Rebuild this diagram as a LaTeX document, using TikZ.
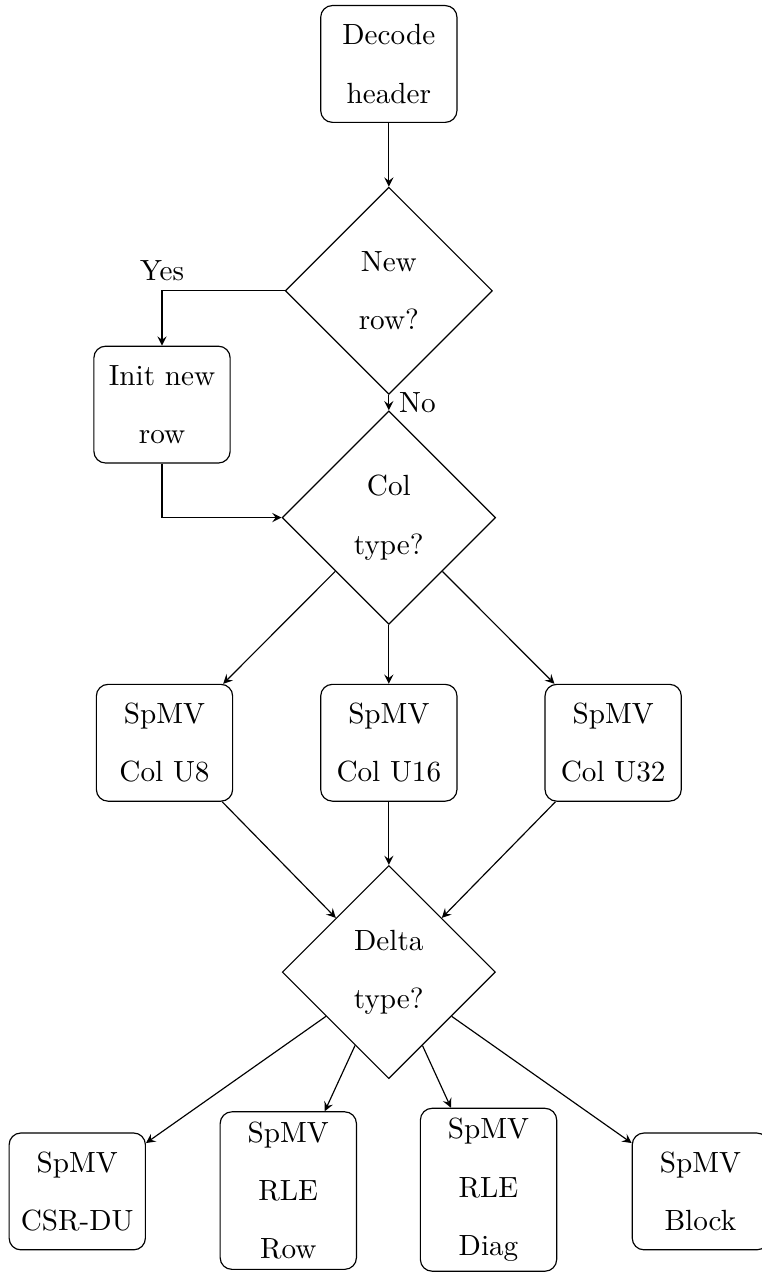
\documentclass[tikz,border=0pt]{standalone}
\usetikzlibrary{shapes.geometric}
\begin{document}
\begin{tikzpicture}[>=stealth,
    box/.style={draw, rounded corners, text width=4em, minimum height=4em, align=center, font=\linespread{1.667}\selectfont},
    decision/.style={draw, diamond, aspect=1, text width=4em, inner sep=1pt, align=center, font=\linespread{1.667}\selectfont}]
    \useasboundingbox (-4.68,0.77) rectangle (4.48,-14.54);
    \node[box] (decode) at (0,0) {Decode\\header};
    \node[decision] (newrow) at (0,-2.73) {New\\row?};
    \node[box] (init) at (-2.73,-4.1) {Init new\\row};
    \node[decision] (coltype) at (0,-5.46) {Col\\type?};
    \node[box] (colu8) at (-2.7,-8.17) {SpMV\\Col U8};
    \node[box] (colu16) at (0,-8.17) {SpMV\\Col U16};
    \node[box] (colu32) at (2.7,-8.17) {SpMV\\Col U32};
    \node[decision] (deltatype) at (0,-10.93) {Delta\\type?};
    \node[box] (csrdu) at (-3.75,-13.57) {SpMV\\CSR-DU};
    \node[box] (rlerow) at (-1.21,-13.56) {SpMV\\RLE\\Row};
    \node[box] (rlediag) at (1.2,-13.55) {SpMV\\RLE\\Diag};
    \node[box] (block) at (3.75,-13.57) {SpMV\\Block};
    \draw[->] (decode) -- (newrow);
    \draw[->] (newrow) -| node[above] {Yes} (init);
    \draw[->] (newrow) -- node[right] {No} (coltype);
    \draw[->] (init) |- (coltype);
    \draw[->] (coltype) -- (colu8);
    \draw[->] (coltype) -- (colu16);
    \draw[->] (coltype) -- (colu32);
    \draw[->] (colu8) -- (deltatype);
    \draw[->] (colu16) -- (deltatype);
    \draw[->] (colu32) -- (deltatype);
    \draw[->] (deltatype) -- (csrdu);
    \draw[->] (deltatype) -- (rlerow);
    \draw[->] (deltatype) -- (rlediag);
    \draw[->] (deltatype) -- (block);
\end{tikzpicture}
\end{document}
